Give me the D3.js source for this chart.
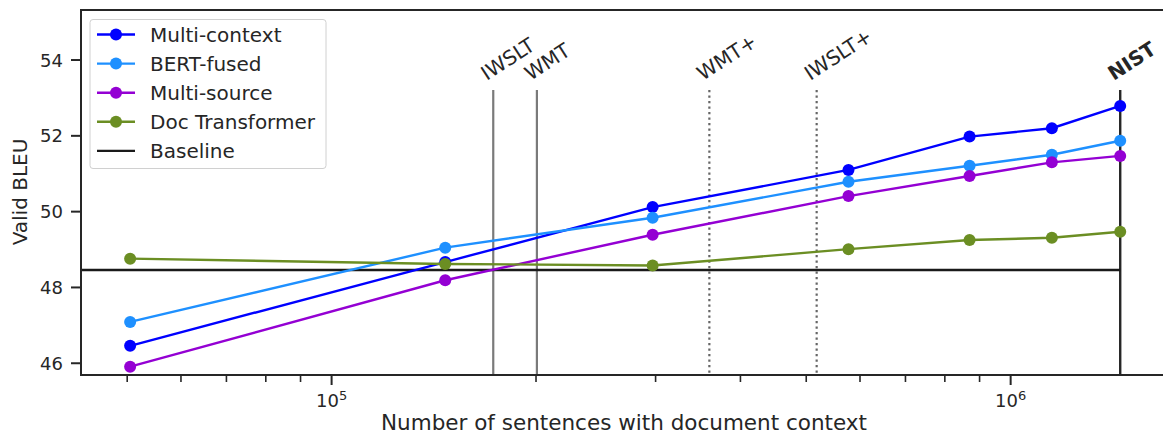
<!DOCTYPE html>
<html>
<head>
<meta charset="utf-8">
<script src="https://cdn.jsdelivr.net/npm/d3@7"></script>
<style>
body { margin: 0; background: #fff; }
text { font-family: "DejaVu Sans", sans-serif; fill: #262626; }
</style>
</head>
<body>
<script>
// sentences with document context (x) and valid BLEU per model
var sentences = [50500, 147000, 297000, 577000, 870000, 1150000, 1450000];
var multiContext = [46.46, 48.67, 50.12, 51.10, 51.98, 52.20, 52.79];
var bertFused = [47.09, 49.05, 49.84, 50.79, 51.21, 51.50, 51.87];
var multiSource = [45.91, 48.19, 49.39, 50.41, 50.94, 51.30, 51.47];
var docTransformer = [48.76, 48.62, 48.58, 49.01, 49.25, 49.31, 49.47];
var baselineBleu = 48.46;

var seriesNames = ["Multi-context", "BERT-fused", "Multi-source", "Doc Transformer"];
var seriesColors = ["#0000ff", "#1e90ff", "#9400d3", "#6b8e23"];

// dataset sizes marked with vertical lines
var corpusNames = ["IWSLT", "WMT", "WMT+", "IWSLT+", "NIST"];
var corpusSizes = [173000, 200600, 360000, 518000, 1450000];
var corpusStyle = ["solid", "solid", "dotted", "dotted", "nist"];

var yTicks = [46, 48, 50, 52, 54];
var xMajorTicks = [1e5, 1e6];
var xMinorTicks = [5e4, 6e4, 7e4, 8e4, 9e4, 2e5, 3e5, 4e5, 5e5, 6e5, 7e5, 8e5, 9e5];

function drawChart(){
	var svgWidth = 1163;
	var svgHeight = 436;
	var left = 81, right = 1175, top = 10, bottom = 375;
	var axisColor = "#262626";

	var svg = d3.select('body').append('svg')
		.attr("width", svgWidth)
		.attr("height", svgHeight);

	var x = d3.scaleLog().domain([42750, 1746000]).range([left, right]);
	var y = d3.scaleLinear().domain([45.69, 55.32]).range([bottom, top]);

	var allSeries = [multiContext, bertFused, multiSource, docTransformer];

	// vertical corpus lines
	var vl = svg.append("g");
	corpusSizes.forEach(function(s, i){
		var line = vl.append("line")
			.attr("x1", x(s)).attr("x2", x(s))
			.attr("y1", 90).attr("y2", bottom);
		if (corpusStyle[i] === "solid"){
			line.attr("stroke", "#7a7a7a").attr("stroke-width", 2.2);
		} else if (corpusStyle[i] === "dotted"){
			line.attr("stroke", "#666").attr("stroke-width", 2.2).attr("stroke-dasharray", "2.2,3.3");
		} else {
			line.attr("stroke", "#262626").attr("stroke-width", 2.4);
		}
		vl.append("text")
			.attr("transform", "translate(" + (x(s) - 6.5) + ",81) rotate(-33)")
			.style("font-size", "20px")
			.style("font-weight", corpusStyle[i] === "nist" ? "bold" : "normal")
			.text(corpusNames[i]);
	});

	// baseline, stops at the NIST line
	svg.append("line")
		.attr("x1", left).attr("x2", x(corpusSizes[4]))
		.attr("y1", y(baselineBleu)).attr("y2", y(baselineBleu))
		.attr("stroke", "#1a1a1a").attr("stroke-width", 2.4);

	var lineGen = d3.line()
		.x(function(d, i){ return x(sentences[i]); })
		.y(function(d){ return y(d); });

	allSeries.forEach(function(vals, k){
		svg.append("path")
			.datum(vals)
			.attr("d", lineGen)
			.attr("fill", "none")
			.attr("stroke", seriesColors[k])
			.attr("stroke-width", 2.4);
		svg.append("g").selectAll("circle")
			.data(vals)
			.enter()
			.append("circle")
			.attr("cx", function(d, i){ return x(sentences[i]); })
			.attr("cy", function(d){ return y(d); })
			.attr("r", 6)
			.attr("fill", seriesColors[k]);
	});

	// spines
	svg.append("line").attr("x1", left).attr("x2", left).attr("y1", top).attr("y2", bottom)
		.attr("stroke", axisColor).attr("stroke-width", 2);
	svg.append("line").attr("x1", left - 1).attr("x2", svgWidth).attr("y1", bottom).attr("y2", bottom)
		.attr("stroke", axisColor).attr("stroke-width", 2);
	svg.append("line").attr("x1", left - 1).attr("x2", svgWidth).attr("y1", top).attr("y2", top)
		.attr("stroke", axisColor).attr("stroke-width", 2);

	// y ticks
	var yAxis = svg.append("g");
	yTicks.forEach(function(t){
		yAxis.append("line").attr("x1", left - 10).attr("x2", left)
			.attr("y1", y(t)).attr("y2", y(t))
			.attr("stroke", axisColor).attr("stroke-width", 2);
		yAxis.append("text")
			.attr("x", left - 18).attr("y", y(t) + 6.5)
			.attr("text-anchor", "end")
			.style("font-size", "18px")
			.text(t);
	});

	// x ticks (log)
	var xAxis = svg.append("g");
	xMinorTicks.forEach(function(t){
		xAxis.append("line").attr("x1", x(t)).attr("x2", x(t))
			.attr("y1", bottom).attr("y2", bottom + 7)
			.attr("stroke", axisColor).attr("stroke-width", 1.6);
	});
	xMajorTicks.forEach(function(t){
		xAxis.append("line").attr("x1", x(t)).attr("x2", x(t))
			.attr("y1", bottom).attr("y2", bottom + 10)
			.attr("stroke", axisColor).attr("stroke-width", 2);
		var lbl = xAxis.append("text")
			.attr("x", x(t)).attr("y", 406.5)
			.attr("text-anchor", "middle")
			.style("font-size", "18px");
		lbl.append("tspan").text("10");
		lbl.append("tspan").attr("dy", -7).style("font-size", "13px").text(Math.round(Math.log10(t)));
	});

	svg.append("text")
		.attr("x", 624).attr("y", 430)
		.attr("text-anchor", "middle")
		.style("font-size", "21.5px")
		.text("Number of sentences with document context");

	svg.append("text")
		.attr("transform", "translate(27,192) rotate(-90)")
		.attr("text-anchor", "middle")
		.style("font-size", "20px")
		.text("Valid BLEU");

	// legend
	var legend = svg.append("g");
	legend.append("rect")
		.attr("x", 90).attr("y", 19.5).attr("width", 236).attr("height", 149)
		.attr("rx", 3).attr("ry", 3)
		.attr("fill", "#fff").attr("fill-opacity", 0.8)
		.attr("stroke", "#d0d0d0").attr("stroke-width", 1);
	var legendNames = seriesNames.concat(["Baseline"]);
	var legendColors = seriesColors.concat(["#1a1a1a"]);
	legendNames.forEach(function(n, i){
		var ly = 34.5 + i * 29.1;
		legend.append("line").attr("x1", 97).attr("x2", 135)
			.attr("y1", ly).attr("y2", ly)
			.attr("stroke", legendColors[i]).attr("stroke-width", 2.4);
		if (i < 4){
			legend.append("circle").attr("cx", 116).attr("cy", ly).attr("r", 6)
				.attr("fill", legendColors[i]);
		}
		legend.append("text")
			.attr("x", 150).attr("y", ly + 7)
			.style("font-size", "20px")
			.text(n);
	});
}

drawChart();
</script>
</body>
</html>
